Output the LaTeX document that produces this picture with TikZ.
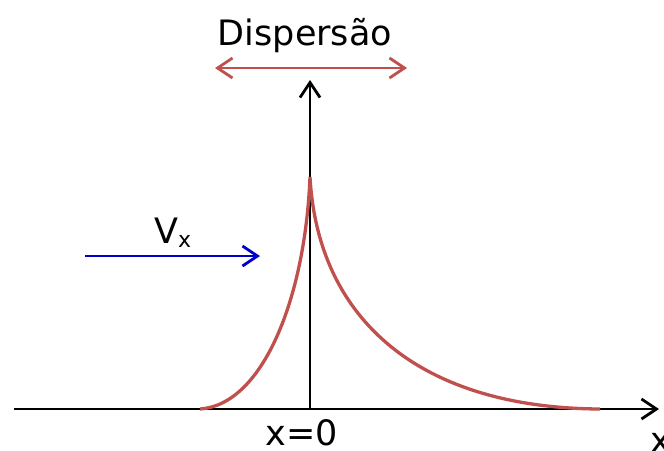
\documentclass[tikz,border=0pt]{standalone}
\usepackage{fontspec}
\setmainfont{DejaVu Sans}
\usetikzlibrary{arrows.meta}
\definecolor{DispRed}{HTML}{C0504D}
\definecolor{FlowBlue}{HTML}{0000CC}

\begin{document}
\begin{tikzpicture}[x=1pt,y=-1pt,every node/.style={font=\fontsize{35}{40}\selectfont,inner sep=0pt},
    barb/.tip={Straight Barb[length=15pt,width=20pt]},
    axis/.style={line width=2.8pt,-barb}]
    \useasboundingbox (0,0) rectangle (664,450);
    % axes
    \coordinate (xl) at (14,409); \coordinate (xr) at (659,409);
    \coordinate (o) at (310,409); \coordinate (yt) at (310,80);
    \draw[axis] (xl)--(xr);
    \draw[axis] (o)--(yt);
    % concentration profile
    \coordinate (cl) at (200,409); \coordinate (peak) at (310,177); \coordinate (cr) at (600,409);
    \draw[DispRed,line width=3.3pt] (cl) .. controls (262,405) and (305,300) .. (peak) .. controls (318,320) and (420,408) .. (cr);
    % dispersion arrow
    \coordinate (dl) at (215,68); \coordinate (dr) at (407,68);
    \draw[DispRed,line width=2.8pt,barb-barb] (dl)--(dr);
    \node[anchor=base] (disp) at (305,45) {Dispersão};
    % velocity arrow
    \coordinate (vl) at (85,256); \coordinate (vr) at (260,256);
    \draw[FlowBlue,line width=2.8pt,-barb] (vl)--(vr);
    \node[anchor=base west] (vx) at (154,243) {V\raisebox{-4pt}{\fontsize{22}{22}\selectfont x}};
    % axis labels
    \node[anchor=base] (zero) at (302,445) {x=0};
    \node[anchor=base west] (xlab) at (650,452) {x};
\end{tikzpicture}
\end{document}
